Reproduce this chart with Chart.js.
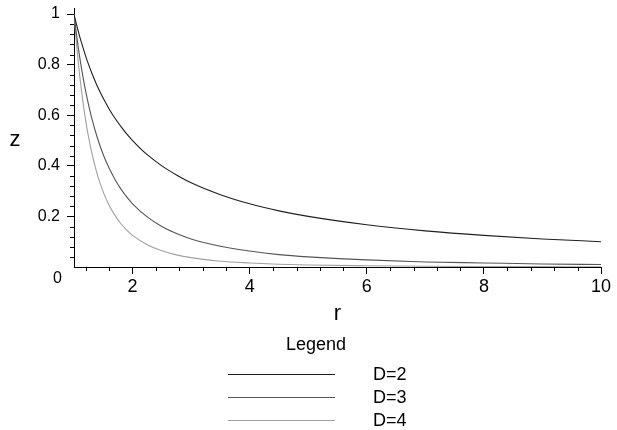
<!DOCTYPE html>
<html>
<head>
<meta charset="utf-8">
<script src="https://cdn.jsdelivr.net/npm/chart.js@4.4.0/dist/chart.umd.min.js"></script>
<style>
  html, body { margin: 0; padding: 0; background: #fff; }
  #wrap { width: 617px; height: 430px; }
</style>
</head>
<body>
<div id="wrap"><canvas id="plot" width="617" height="430"></canvas></div>
<script>
// values
var rValues = [1, 1.05, 1.1, 1.15, 1.2, 1.25, 1.3, 1.4, 1.5, 1.6, 1.7, 1.8, 1.9, 2, 2.25, 2.5, 2.75, 3, 3.5, 4, 4.5, 5, 6, 7, 8, 9, 10];
var zD2 = [1, 0.952, 0.909, 0.870, 0.833, 0.800, 0.769, 0.714, 0.667, 0.625, 0.588, 0.556, 0.526, 0.5, 0.444, 0.4, 0.364, 0.333, 0.286, 0.25, 0.222, 0.2, 0.167, 0.143, 0.125, 0.111, 0.1];
var zD3 = [1, 0.907, 0.826, 0.756, 0.694, 0.640, 0.592, 0.510, 0.444, 0.391, 0.346, 0.309, 0.277, 0.25, 0.198, 0.16, 0.132, 0.111, 0.082, 0.063, 0.049, 0.04, 0.028, 0.02, 0.016, 0.012, 0.01];
var zD4 = [1, 0.864, 0.751, 0.658, 0.579, 0.512, 0.455, 0.364, 0.296, 0.244, 0.204, 0.171, 0.146, 0.125, 0.088, 0.064, 0.048, 0.037, 0.023, 0.016, 0.011, 0.008, 0.005, 0.003, 0.002, 0.0014, 0.001];
var seriesLabels = ['D=2', 'D=3', 'D=4'];
var xMajorTicks = [2, 4, 6, 8, 10];
var yMajorTicks = [0.2, 0.4, 0.6, 0.8, 1];
var yTickLabels = ['0.2', '0.4', '0.6', '0.8', '1'];

var FONT = "'Liberation Sans', Arial, Helvetica, sans-serif";
var colours = ['#1f1f1f', '#555555', '#a0a0a0'];

function toPoints(ys) {
    return ys.map(function (y, i) { return { x: rValues[i], y: y }; });
}

function isIn(list, v) {
    return list.some(function (m) { return Math.abs(m - v) < 1e-6; });
}

// minor ticks, axis "0", upright z and the legend block
var maplePlugin = {
    id: 'maple',
    afterDraw: function (chart) {
        var ctx = chart.ctx;
        var xs = chart.scales.x, ys = chart.scales.y;
        var x0 = xs.left, y0 = ys.bottom;
        ctx.save();
        ctx.strokeStyle = '#000';
        ctx.lineWidth = 1;
        ctx.beginPath();
        xs.ticks.forEach(function (t) {
            if (isIn(xMajorTicks, t.value)) return;
            var px = Math.round(xs.getPixelForValue(t.value)) + 0.5;
            ctx.moveTo(px, y0); ctx.lineTo(px, y0 + 4);
        });
        ys.ticks.forEach(function (t) {
            if (isIn(yMajorTicks, t.value) || t.value === 0) return;
            var py = Math.round(ys.getPixelForValue(t.value)) + 0.5;
            ctx.moveTo(x0, py); ctx.lineTo(x0 - 4, py);
        });
        ctx.stroke();

        ctx.fillStyle = '#000';
        ctx.font = '16px ' + FONT;
        ctx.textAlign = 'right';
        ctx.textBaseline = 'middle';
        ctx.fillText('0', 62, ys.getPixelForValue(0) + 12);

        ctx.font = '22px ' + FONT;
        ctx.textAlign = 'center';
        ctx.fillText('z', 15, (ys.getPixelForValue(0) + ys.getPixelForValue(1)) / 2 - 1);

        // legend
        ctx.font = '18px ' + FONT;
        ctx.fillText('Legend', 316, 345);
        chart.data.datasets.forEach(function (ds, i) {
            var ly = 374 + i * 23;
            ctx.strokeStyle = ds.borderColor;
            ctx.beginPath();
            ctx.moveTo(228, ly + 0.5);
            ctx.lineTo(335, ly + 0.5);
            ctx.stroke();
            ctx.textAlign = 'left';
            ctx.fillStyle = '#000';
            ctx.fillText(ds.label, 373, ly + 1);
        });
        ctx.restore();
    }
};

var datasets = [zD2, zD3, zD4].map(function (ys, i) {
    return {
        label: seriesLabels[i],
        data: toPoints(ys),
        borderColor: colours[i],
        borderWidth: 1.1,
        pointRadius: 0,
        fill: false,
        cubicInterpolationMode: 'monotone'
    };
});

new Chart(document.getElementById('plot').getContext('2d'), {
    type: 'line',
    data: { datasets: datasets },
    options: {
        responsive: false,
        animation: false,
        layout: { padding: { left: 0, right: 16, top: 8, bottom: 103 } },
        plugins: { legend: { display: false }, tooltip: { enabled: false } },
        scales: {
            x: {
                type: 'linear',
                min: 1,
                max: 10,
                afterBuildTicks: function (scale) {
                    var t = [];
                    for (var k = 3; k <= 25; k++) t.push({ value: Math.round(k * 0.4 * 100) / 100 });
                    scale.ticks = t;
                },
                afterFit: function (scale) {
                    scale.height = 60;
                    scale.paddingLeft = 0;
                    scale.paddingRight = 0;
                },
                border: { display: true, color: '#000', width: 1 },
                grid: {
                    drawOnChartArea: false,
                    drawTicks: true,
                    tickLength: 7,
                    tickColor: function (c) { return c.tick && isIn(xMajorTicks, c.tick.value) ? '#000' : 'rgba(0,0,0,0)'; }
                },
                ticks: {
                    autoSkip: false,
                    maxRotation: 0,
                    padding: 2,
                    color: '#000',
                    font: { family: FONT, size: 18 },
                    callback: function (v) { return isIn(xMajorTicks, v) ? String(Math.round(v)) : ''; }
                },
                title: {
                    display: true,
                    text: 'r',
                    color: '#000',
                    padding: { top: 0, bottom: 0 },
                    font: { family: FONT, size: 22 }
                }
            },
            y: {
                type: 'linear',
                min: 0,
                max: 1.024,
                afterBuildTicks: function (scale) {
                    var t = [];
                    for (var k = 0; k <= 25; k++) t.push({ value: Math.round(k * 0.04 * 100) / 100 });
                    scale.ticks = t;
                },
                afterFit: function (scale) {
                    scale.width = 74;
                    scale.paddingTop = 0;
                    scale.paddingBottom = 0;
                },
                border: { display: true, color: '#000', width: 1 },
                grid: {
                    drawOnChartArea: false,
                    drawTicks: true,
                    tickLength: 7,
                    tickColor: function (c) { return c.tick && isIn(yMajorTicks, c.tick.value) ? '#000' : 'rgba(0,0,0,0)'; }
                },
                ticks: {
                    autoSkip: false,
                    padding: 7,
                    color: '#000',
                    font: { family: FONT, size: 16 },
                    callback: function (v) {
                        for (var i = 0; i < yMajorTicks.length; i++) {
                            if (Math.abs(yMajorTicks[i] - v) < 1e-6) return yTickLabels[i];
                        }
                        return '';
                    }
                }
            }
        }
    },
    plugins: [maplePlugin]
});
</script>
</body>
</html>
